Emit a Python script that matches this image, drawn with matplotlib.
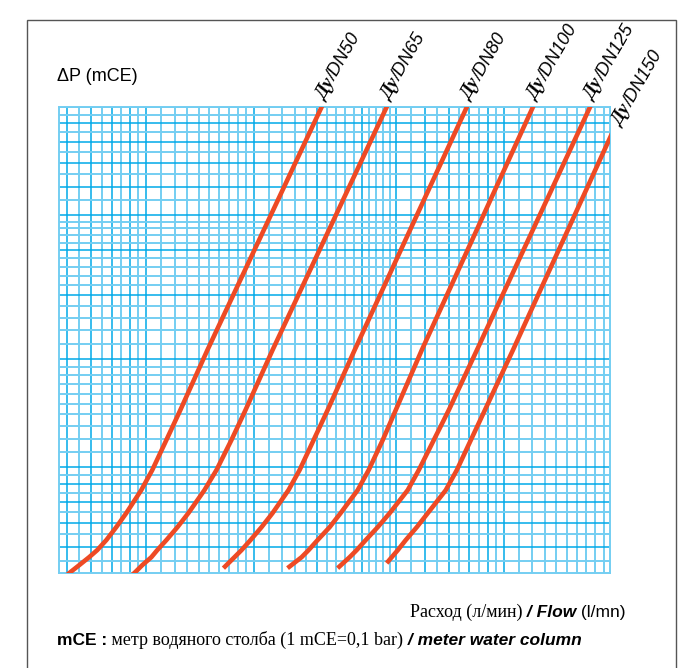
import numpy as np
import matplotlib
matplotlib.use("Agg")
import matplotlib.pyplot as plt
from matplotlib.ticker import FixedLocator, NullFormatter
from matplotlib.transforms import IdentityTransform
from matplotlib.patches import Rectangle

# valve sizes and curves: flow (l/min) vs dP (mCE)
sizes = ["DN50", "DN65", "DN80", "DN100", "DN125", "DN150"]

dn50_q = [57.8, 60.9, 64.9, 69.2, 72.9, 77.3, 82.4, 87.9, 96.8, 103.9, 113.8, 124.5, 148.2, 309.2, 321.4]
dn50_p = [0.486, 0.508, 0.534, 0.562, 0.588, 0.627, 0.681, 0.745, 0.863, 0.981, 1.189, 1.440, 2.113, 10.0, 10.8]

dn65_q = [87.9, 92.6, 97.4, 103.3, 107.3, 113.8, 122.2, 131.1, 145.4, 157.1, 173.0, 189.4, 225.4, 470.1, 488.9]
dn65_p = [0.486, 0.508, 0.534, 0.562, 0.588, 0.627, 0.681, 0.745, 0.863, 0.981, 1.189, 1.440, 2.113, 10.0, 10.8]

dn80_q = [164.3, 176.4, 184.6, 195.6, 210.0, 225.4, 249.8, 268.3, 293.7, 321.4, 382.4, 787.7, 818.8]
dn80_p = [0.524, 0.562, 0.588, 0.627, 0.681, 0.745, 0.863, 0.981, 1.189, 1.440, 2.113, 10.0, 10.8]

dn100_q = [248.3, 271.8, 284.3, 301.3, 325.6, 349.4, 390.0, 418.6, 458.3, 498.4, 589.3, 1205.5, 1253.1]
dn100_p = [0.524, 0.562, 0.588, 0.627, 0.681, 0.745, 0.863, 0.981, 1.189, 1.440, 2.113, 10.0, 10.8]

dn125_q = [342.8, 370.3, 387.4, 410.7, 443.7, 479.3, 538.3, 578.0, 636.8, 701.3, 840.3, 1741.4, 1809.6]
dn125_p = [0.524, 0.562, 0.588, 0.627, 0.681, 0.745, 0.863, 0.981, 1.189, 1.440, 2.113, 10.0, 10.8]

dn150_q = [470.1, 485.6, 504.9, 531.4, 570.6, 612.5, 687.8, 738.4, 808.3, 884.9, 1059.8, 2168.0]
dn150_p = [0.541, 0.562, 0.588, 0.627, 0.681, 0.745, 0.863, 0.981, 1.189, 1.440, 2.113, 10.0]

curves = [(dn50_q, dn50_p), (dn65_q, dn65_p), (dn80_q, dn80_p),
          (dn100_q, dn100_p), (dn125_q, dn125_p), (dn150_q, dn150_p)]

RED = "#ee4a24"
DARK_BLUE = "#00a9e8"
LIGHT_BLUE = "#74cef2"

fig = plt.figure(figsize=(6.8, 6.68), dpi=100)
ax = fig.add_axes([59 / 680, 95 / 668, 551 / 680, 466 / 668])
ax.set_xscale("log")
ax.set_yscale("log")
ax.set_xlim(57, 1980)
ax.set_ylim(0.508, 10)


# log paper: 1-2 by 0.1, 2-5 by 0.2, 5-10 by 0.5
def paper_lines(decades):
    steps = np.concatenate([np.arange(1, 2, 0.1), np.arange(2, 5, 0.2), np.arange(5, 10, 0.5)])
    major, minor = [], []
    for d in decades:
        for m in steps:
            v = m * 10.0 ** d
            if abs(m - round(m)) < 1e-6:
                major.append(v)
            else:
                minor.append(v)
    return major, minor


xmaj, xmin = paper_lines(range(1, 4))
ymaj, ymin = paper_lines(range(-1, 2))
ax.xaxis.set_major_locator(FixedLocator(xmaj))
ax.xaxis.set_minor_locator(FixedLocator(xmin))
ax.yaxis.set_major_locator(FixedLocator(ymaj))
ax.yaxis.set_minor_locator(FixedLocator(ymin))
for axis in (ax.xaxis, ax.yaxis):
    axis.set_major_formatter(NullFormatter())
    axis.set_minor_formatter(NullFormatter())
ax.tick_params(which="both", length=0)
ax.grid(which="minor", color=LIGHT_BLUE, lw=1.4)
ax.grid(which="major", color=DARK_BLUE, lw=1.1)
ax.set_axisbelow(True)
for sp in ax.spines.values():
    sp.set_color(LIGHT_BLUE)
    sp.set_linewidth(1.4)

for q, p in curves:
    ax.plot(q, p, color=RED, lw=3.3, solid_capstyle="butt", zorder=3)

renderer = fig.canvas.get_renderer()


def text_width(s, kw):
    t = fig.text(0, 0, s, transform=IdentityTransform(), **kw)
    w = t.get_window_extent(renderer).width
    t.remove()
    return w


def text_run(x, y, parts, align="left", angle=0):
    widths = [text_width(s, kw) for s, kw in parts]
    th = np.radians(angle)
    if align == "right":
        x -= sum(widths)
    for (s, kw), w in zip(parts, widths):
        fig.text(x, y, s, transform=IdentityTransform(), rotation=angle,
                 rotation_mode="anchor", ha="left", va="baseline", **kw)
        x += w * np.cos(th)
        y += w * np.sin(th)


serif_bi = dict(family="Liberation Serif", weight="bold", style="italic", fontsize=13.5)
sans_i = dict(family="Liberation Sans", style="italic", fontsize=13)

for name, (q, p) in zip(sizes, curves):
    if name == "DN150":
        xd, yd = q[-1], p[-1]
        dx, dy = -3, -20
    else:
        xd, yd = q[-2], p[-2]
        dx, dy = 3, 6
    px, py = ax.transData.transform((xd, yd))
    text_run(px + dx, py + dy, [("Ду", serif_bi), ("/" + name, sans_i)], angle=60)

fig.text(57, 668 - 81, "ΔP (mCE)", transform=IdentityTransform(),
         family="Liberation Sans", fontsize=13, va="baseline")

serif = dict(family="Liberation Serif", fontsize=13)
sans = dict(family="Liberation Sans", fontsize=12.5)
sans_b = dict(family="Liberation Sans", fontsize=12.5, weight="bold")
sans_bi = dict(family="Liberation Sans", fontsize=12.5, style="italic", weight="bold")
text_run(626, 668 - 617, [("Расход (л/мин)", serif), (" / Flow", sans_bi), (" (l/mn)", sans)],
         align="right")
text_run(57, 668 - 645, [("mCE :", sans_b), (" метр водяного столба (1 mCE=0,1 bar)", serif),
                         (" / meter water column", sans_bi)])

fig.patches.append(Rectangle((27 / 680, -0.05), 649 / 680, 1.05 - 20 / 668,
                             transform=fig.transFigure, fill=False,
                             edgecolor="#555555", lw=1.0))

fig.savefig("out.png", dpi=100)
